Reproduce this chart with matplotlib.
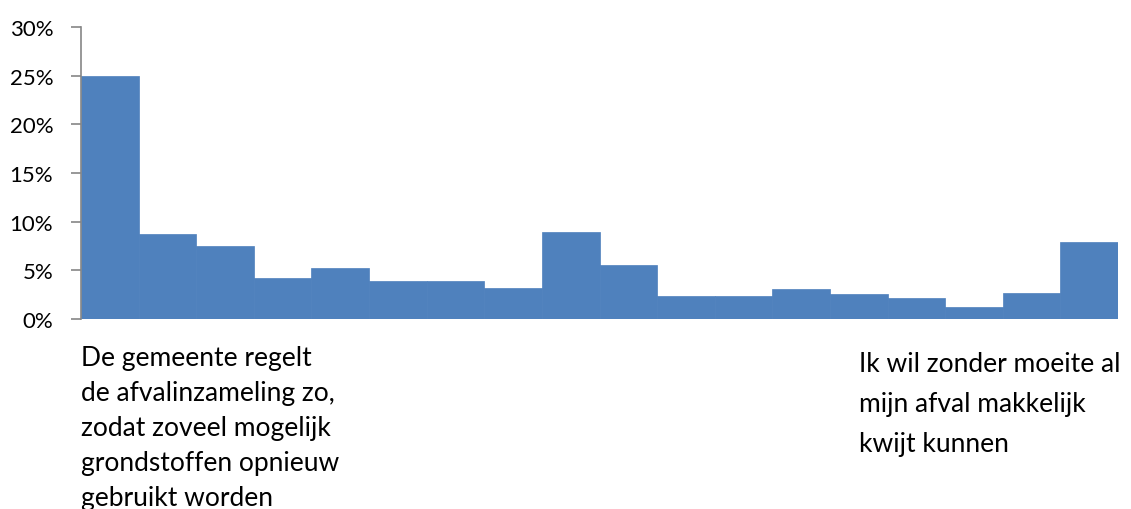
import matplotlib.pyplot as plt
from matplotlib.ticker import FuncFormatter
from matplotlib.transforms import ScaledTranslation

# share of respondents per position on the scale (18 steps)
values = [25.0, 8.75, 7.47, 4.18, 5.28, 3.94, 3.87, 3.19, 8.91,
          5.52, 2.33, 2.33, 3.08, 2.53, 2.12, 1.23, 2.64, 7.88]
left_label = ("De gemeente regelt\nde afvalinzameling zo,\nzodat zoveel mogelijk\n"
              "grondstoffen opnieuw\ngebruikt worden")
right_label = "Ik wil zonder moeite al\nmijn afval makkelijk\nkwijt kunnen"
y_ticks = [0, 5, 10, 15, 20, 25, 30]

plt.rcParams['font.family'] = ['Lato', 'DejaVu Sans']

fig = plt.figure(figsize=(11.31, 5.10), dpi=100)
ax = fig.add_axes([81 / 1131, 190 / 510, 1037 / 1131, 292 / 510])

x = list(range(len(values)))
ax.bar(x, values, width=1.0, align='edge', color='#4F81BD',
       edgecolor='#4F81BD', linewidth=0.5)

ax.set_xlim(0, len(values))
ax.set_ylim(0, 30)
ax.set_yticks(y_ticks)
ax.yaxis.set_major_formatter(FuncFormatter(lambda v, p: f"{v:.0f}%"))
ax.tick_params(axis='y', direction='out', length=7, width=1.2,
               color='#868686', labelsize=16, pad=13)

ax.set_xticks([0, 13.5])
ax.set_xticklabels([left_label, right_label])
ax.tick_params(axis='x', length=0, labelsize=19, pad=19)
lbls = ax.get_xticklabels()
for lbl in lbls:
    lbl.set_horizontalalignment('left')
    lbl.set_verticalalignment('top')
lbls[0].set_linespacing(1.5)
lbls[1].set_linespacing(1.75)
# the right-hand label sits a little lower in the original
lbls[1].set_transform(lbls[1].get_transform()
                      + ScaledTranslation(0, -6 / 100, fig.dpi_scale_trans))

for side in ['top', 'right', 'bottom']:
    ax.spines[side].set_visible(False)
ax.spines['left'].set_color('#868686')
ax.spines['left'].set_linewidth(1.2)

fig.savefig('out.png', dpi=100)
